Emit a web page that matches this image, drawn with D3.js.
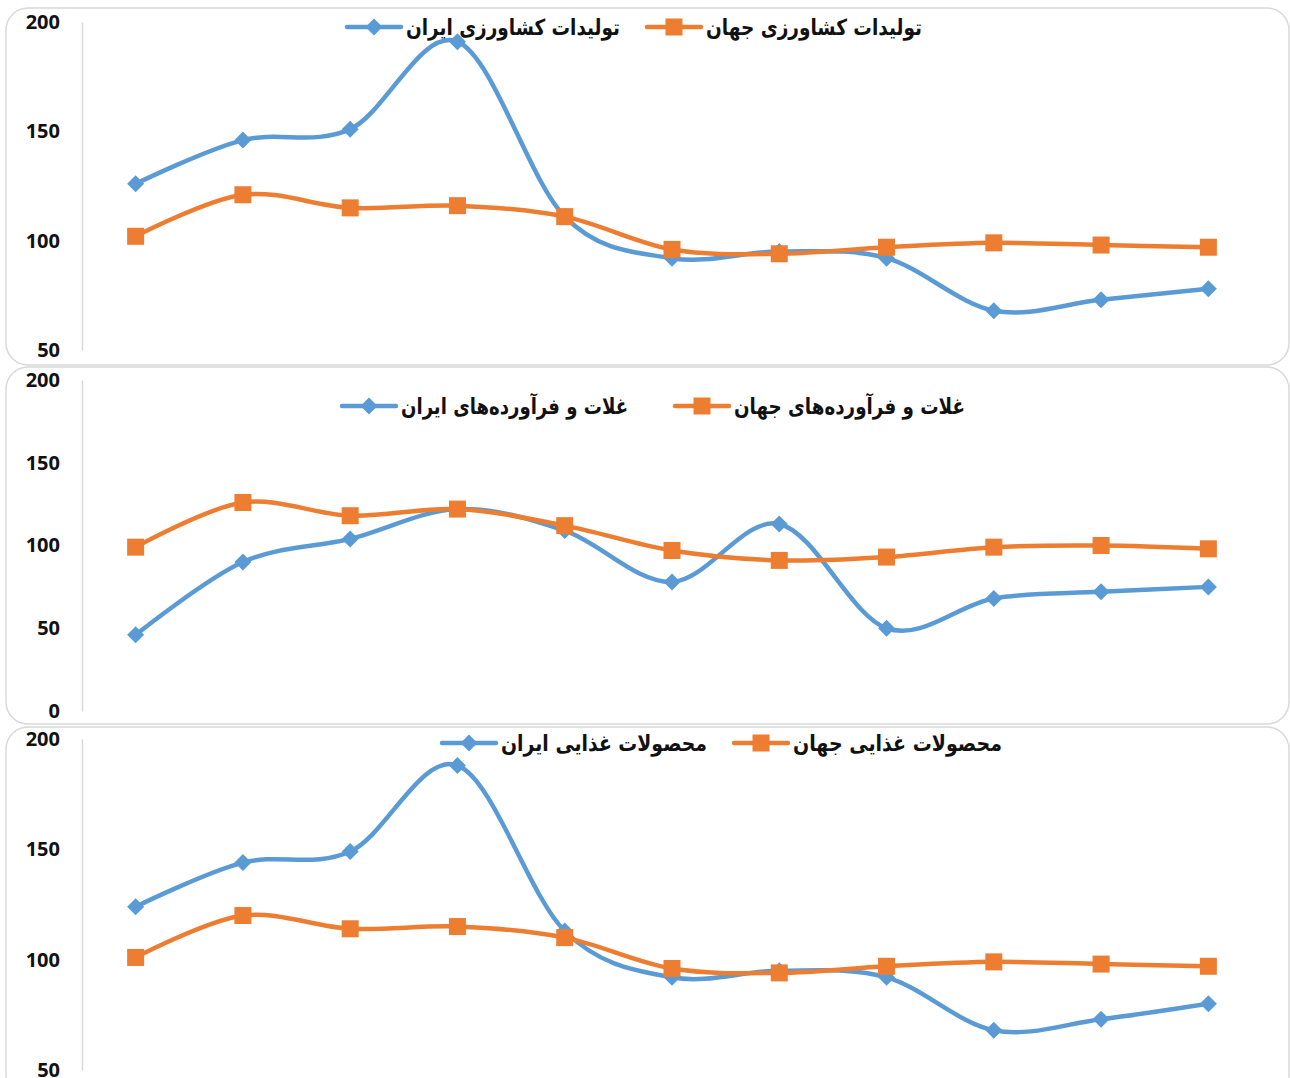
<!DOCTYPE html>
<html>
<head>
<meta charset="utf-8">
<script src="https://cdn.jsdelivr.net/npm/d3@7"></script>
<style>
  html, body { margin: 0; padding: 0; background: #ffffff; }
  svg { display: block; }
</style>
</head>
<body>
<svg id="chart" width="1290" height="1078"></svg>
<script>
// ---- data ----
const categories = ["1", "2", "3", "4", "5", "6", "7", "8", "9", "10", "11"];

const agriIran   = [126, 146, 151, 191, 111, 92, 95, 92, 68, 73, 78];
const agriWorld  = [102, 121, 115, 116, 111, 96, 94, 97, 99, 98, 97];

const cerealIran  = [46, 90, 104, 122, 109, 78, 113, 50, 68, 72, 75];
const cerealWorld = [99, 126, 118, 122, 112, 97, 91, 93, 99, 100, 98];

const foodIran  = [124, 144, 149, 188, 113, 92, 95, 92, 68, 73, 80];
const foodWorld = [101, 120, 114, 115, 110, 96, 94, 97, 99, 98, 97];

const ticks1 = [50, 100, 150, 200];
const ticks2 = [0, 50, 100, 150, 200];
const ticks3 = [50, 100, 150, 200];

const labels1 = ["تولیدات کشاورزی ایران", "تولیدات کشاورزی جهان"];
const labels2 = ["غلات و فرآورده‌های ایران", "غلات و فرآورده‌های جهان"];
const labels3 = ["محصولات غذایی ایران", "محصولات غذایی جهان"];

// ---- styling / layout ----
const BLUE = "#5B9BD5", ORANGE = "#ED7D31";
const svg = d3.select("#chart");

const panels = [
  { box: [6, 8, 1283, 357], yDom: [50, 200], yRange: [350, 22], ticks: ticks1,
    iran: agriIran, world: agriWorld, labels: labels1, legY: 28,
    legRight: [620, 922], legW: [214, 216] },
  { box: [6, 367, 1283, 357], yDom: [0, 200], yRange: [711, 380], ticks: ticks2,
    iran: cerealIran, world: cerealWorld, labels: labels2, legY: 407,
    legRight: [628, 965], legW: [227, 231] },
  { box: [6, 727, 1283, 370], yDom: [50, 200], yRange: [1070, 739], ticks: ticks3,
    iran: foodIran, world: foodWorld, labels: labels3, legY: 744,
    legRight: [707, 1002], legW: [206, 209] }
];

const x = d3.scaleBand().domain(categories).range([82, 1262]);
const cx = c => x(c) + x.bandwidth() / 2;

function marker(g, type, px, py) {
  const s = 8.5;
  if (type === "diamond") {
    g.append("path")
      .attr("d", `M${px},${py - s}L${px + s},${py}L${px},${py + s}L${px - s},${py}Z`)
      .attr("fill", BLUE);
  } else {
    g.append("rect")
      .attr("x", px - s).attr("y", py - s)
      .attr("width", 2 * s).attr("height", 2 * s)
      .attr("fill", ORANGE);
  }
}

panels.forEach(p => {
  const g = svg.append("g");
  // border
  g.append("rect")
    .attr("x", p.box[0]).attr("y", p.box[1])
    .attr("width", p.box[2]).attr("height", p.box[3])
    .attr("rx", 22).attr("ry", 22)
    .attr("fill", "#fff").attr("stroke", "#d9d9d9").attr("stroke-width", 1.5);

  const y = d3.scaleLinear().domain(p.yDom).range(p.yRange);

  // y axis
  const ax = g.append("g").attr("transform", "translate(82,0)")
    .call(d3.axisLeft(y).tickValues(p.ticks).tickSize(0).tickPadding(22));
  ax.select(".domain").attr("stroke", "#d9d9d9").attr("stroke-width", 1.5);
  ax.selectAll("text")
    .attr("font-family", "'Open Sans', Lato, sans-serif")
    .attr("font-weight", 700).attr("font-size", 20).attr("fill", "#111");

  const line = d3.line()
    .x((d, i) => cx(categories[i]))
    .y(d => y(d))
    .curve(d3.curveCardinal.tension(0));

  const series = [
    { vals: p.iran, color: BLUE, type: "diamond" },
    { vals: p.world, color: ORANGE, type: "square" }
  ];
  series.forEach(s => {
    g.append("path").datum(s.vals)
      .attr("d", line).attr("fill", "none")
      .attr("stroke", s.color).attr("stroke-width", 4.5)
      .attr("stroke-linejoin", "round").attr("stroke-linecap", "round");
    s.vals.forEach((v, i) => marker(g, s.type, cx(categories[i]), y(v)));
  });

  // legend
  series.forEach((s, k) => {
    const lg = g.append("g");
    const t = lg.append("text")
      .attr("x", p.legRight[k]).attr("y", p.legY + 1)
      .attr("text-anchor", "end").attr("dominant-baseline", "middle")
      .attr("font-family", "'DejaVu Sans', sans-serif")
      .attr("font-weight", 700).attr("font-size", 22).attr("fill", "#111")
      .text(p.labels[k]);
    let w = t.node().getComputedTextLength();
    if (w > p.legW[k]) {
      t.attr("textLength", p.legW[k]).attr("lengthAdjust", "spacingAndGlyphs");
      w = p.legW[k];
    }
    const xEnd = p.legRight[k] - w - 5;
    lg.append("line")
      .attr("x1", xEnd - 54).attr("x2", xEnd)
      .attr("y1", p.legY - 1).attr("y2", p.legY - 1)
      .attr("stroke", s.color).attr("stroke-width", 4.5).attr("stroke-linecap", "round");
    marker(lg, s.type, xEnd - 27, p.legY - 1);
  });
});
</script>
</body>
</html>
